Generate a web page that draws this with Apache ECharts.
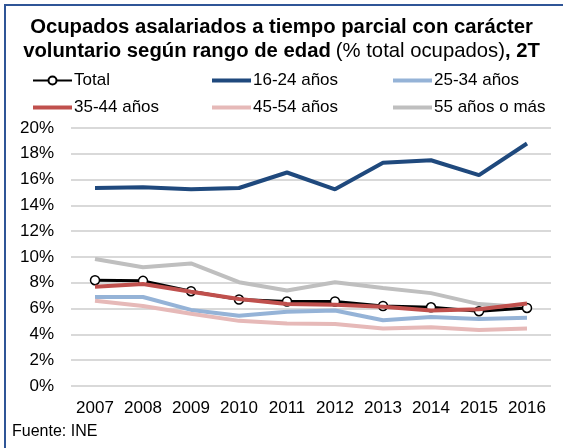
<!DOCTYPE html>
<html>
<head>
<meta charset="utf-8">
<script src="https://cdn.jsdelivr.net/npm/echarts@6/dist/echarts.min.js"></script>
<style>
  html, body { margin: 0; padding: 0; background: #fff; }
  #frame { position: absolute; left: 4px; top: 4px; width: 559px; height: 444px;
           border-left: 2px solid #2F5597; border-top: 2px solid #2F5597; box-sizing: border-box; }
  #chart { position: absolute; left: 0; top: 0; width: 563px; height: 448px; }
</style>
</head>
<body>
<div id="frame"></div>
<div id="chart"></div>
<script>
// datos
var years = ['2007', '2008', '2009', '2010', '2011', '2012', '2013', '2014', '2015', '2016']
var total = [8.2, 8.15, 7.35, 6.7, 6.55, 6.55, 6.2, 6.1, 5.8, 6.05]
var r1624 = [15.35, 15.4, 15.25, 15.35, 16.55, 15.25, 17.3, 17.5, 16.35, 18.8]
var r2534 = [6.9, 6.9, 5.9, 5.45, 5.75, 5.85, 5.1, 5.35, 5.2, 5.3]
var r3544 = [7.7, 7.9, 7.3, 6.75, 6.35, 6.3, 6.15, 5.85, 5.95, 6.4]
var r4554 = [6.6, 6.2, 5.6, 5.05, 4.85, 4.8, 4.45, 4.55, 4.35, 4.45]
var r55 = [9.85, 9.2, 9.5, 8.05, 7.4, 8.05, 7.6, 7.2, 6.35, 6.1]

var font = 'Liberation Sans, Arial, sans-serif'
// icono de leyenda: solo una línea gruesa (los puntos extremos fijan el tamaño)
var lineIcon = 'path://M0,0 L0.01,0 M0,10 L0.01,10 M0,3 L39,3 L39,7 L0,7 Z'

function colored(name, data, color, z) {
  return {
    name: name,
    type: 'line',
    data: data,
    symbol: 'none',
    z: z,
    lineStyle: { color: color, width: 4 },
    itemStyle: { color: color }
  }
}

function legendCol(left, items) {
  return {
    left: left,
    top: 67,
    orient: 'vertical',
    itemGap: 10,
    itemWidth: 39,
    itemHeight: 10,
    data: items,
    textStyle: { fontFamily: font, fontSize: 17, color: '#000', padding: [0, 0, 0, -3] }
  }
}

var chart = echarts.init(document.getElementById('chart'))
chart.setOption({
  animation: false,
  title: {
    left: 'center',
    top: 10,
    itemGap: 0,
    text: '{b|Ocupados asalariados a tiempo parcial con carácter}\n{b|voluntario según rango de edad} {n|(% total ocupados)}{b|, 2T}',
    textStyle: {
      rich: {
        b: { fontFamily: font, fontSize: 20.3, fontWeight: 'bold', color: '#000', lineHeight: 24 },
        n: { fontFamily: font, fontSize: 20.3, fontWeight: 'normal', color: '#000', lineHeight: 24 }
      }
    }
  },
  legend: [
    legendCol(27, ['Total', { name: '35-44 años', icon: lineIcon }]),
    legendCol(207, [{ name: '16-24 años', icon: lineIcon }, { name: '45-54 años', icon: lineIcon }]),
    legendCol(388, [{ name: '25-34 años', icon: lineIcon }, { name: '55 años o más', icon: lineIcon }])
  ],
  grid: { left: 71, right: 12, top: 128, bottom: 62 },
  xAxis: {
    type: 'category',
    data: years,
    axisLine: { show: false },
    axisTick: { show: false },
    axisLabel: { fontFamily: font, fontSize: 17, color: '#000', margin: 14, interval: 0 }
  },
  yAxis: {
    type: 'value',
    min: 0,
    max: 20,
    interval: 2,
    axisLabel: { fontFamily: font, fontSize: 17, color: '#000', margin: 17, formatter: '{value}%' },
    splitLine: { lineStyle: { color: '#D9D9D9', width: 2 } }
  },
  graphic: [{
    type: 'text',
    left: 12,
    top: 424,
    style: { text: 'Fuente: INE', fontFamily: font, fontSize: 16, fill: '#000' }
  }],
  series: [
    colored('16-24 años', r1624, '#1F497D', 2),
    colored('25-34 años', r2534, '#95B3D7', 2),
    colored('45-54 años', r4554, '#E6B9B8', 2),
    colored('55 años o más', r55, '#BFBFBF', 2),
    colored('35-44 años', r3544, '#C0504D', 4),
    {
      name: 'Total',
      type: 'line',
      data: total,
      z: 3,
      symbol: 'circle',
      symbolSize: 9,
      showAllSymbol: true,
      lineStyle: { color: '#000', width: 3 },
      itemStyle: { color: '#fff', borderColor: '#000', borderWidth: 1.5 }
    }
  ]
})
</script>
</body>
</html>
